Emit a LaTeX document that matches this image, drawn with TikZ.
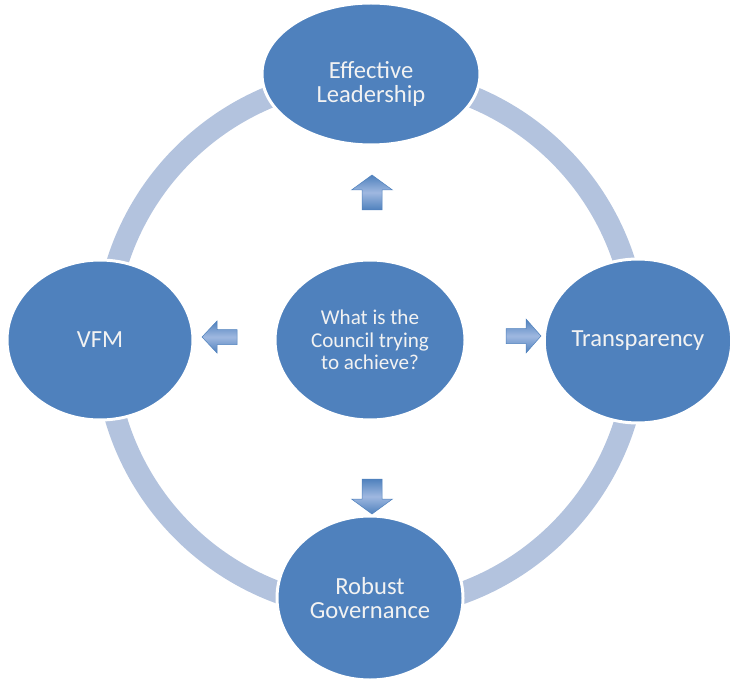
\documentclass[tikz,border=0pt]{standalone}
\usepackage{fontspec}
\setmainfont{Carlito}
\usetikzlibrary{shapes.geometric}
\definecolor{bubbleblue}{HTML}{4F81BD}
\definecolor{ringblue}{HTML}{B3C3DE}
\definecolor{arrowlight}{HTML}{9FB8E0}
\definecolor{bubbletext}{HTML}{F2F2F2}
\tikzset{
  bubble/.style={ellipse, fill=bubbleblue, draw=white, line width=0.9mm,
    text=bubbletext, align=center, inner sep=0pt,
    font=\fontsize{21}{20.8}\selectfont},
  goalbubble/.style={bubble, font=\fontsize{18}{19}\selectfont},
  ring/.style={draw=ringblue, line width=6.6mm},
  arrowshade/.style={top color=bubbleblue, bottom color=bubbleblue,
    middle color=arrowlight, draw=bubbleblue, line width=0.15mm},
  pics/blockarrow/.style args={#1/#2}{code={
    \shade[arrowshade] (-17.5,-#2) -- (2.5,-#2) -- (2.5,-#1) -- (17.5,0)
      -- (2.5,#1) -- (2.5,#2) -- (-17.5,#2) -- cycle;
  }}
}

\begin{document}
\begin{tikzpicture}[x=0.3mm, y=-0.3mm]
  \useasboundingbox (0,0) rectangle (730,680);

  % ring behind the bubbles
  \coordinate (ringc) at (371,343);
  \draw[ring] (ringc) circle[radius=266];

  % outer bubbles
  \node[bubble, minimum width=65.4mm, minimum height=42.6mm,
    label={[bubble, fill=none, draw=none, yshift=-3mm]center:Effective\\Leadership}]
    (lead) at (371,74) {};
  \node[bubble, minimum width=55.8mm, minimum height=48mm] (vfm) at (100,340) {VFM};
  \node[bubble, minimum width=55.2mm, minimum height=49.2mm] (trans) at (638,341) {Transparency};
  \node[bubble, minimum width=55.8mm, minimum height=49.2mm] (gov) at (370,598) {Robust\\Governance};

  % centre
  \node[goalbubble, minimum width=57mm, minimum height=48mm] (goal) at (370,340)
    {What is the\\Council trying\\to achieve?};

  % arrows out of the centre
  \pic[rotate=90] (uparrow) at (372,192.5) {blockarrow=20.5/10};
  \pic[rotate=-90] (downarrow) at (372,496.5) {blockarrow=20.5/10};
  \pic[rotate=180] (leftarrow) at (219.5,337) {blockarrow=16/7.5};
  \pic (rightarrow) at (523.5,336) {blockarrow=17/7.5};
\end{tikzpicture}
\end{document}
